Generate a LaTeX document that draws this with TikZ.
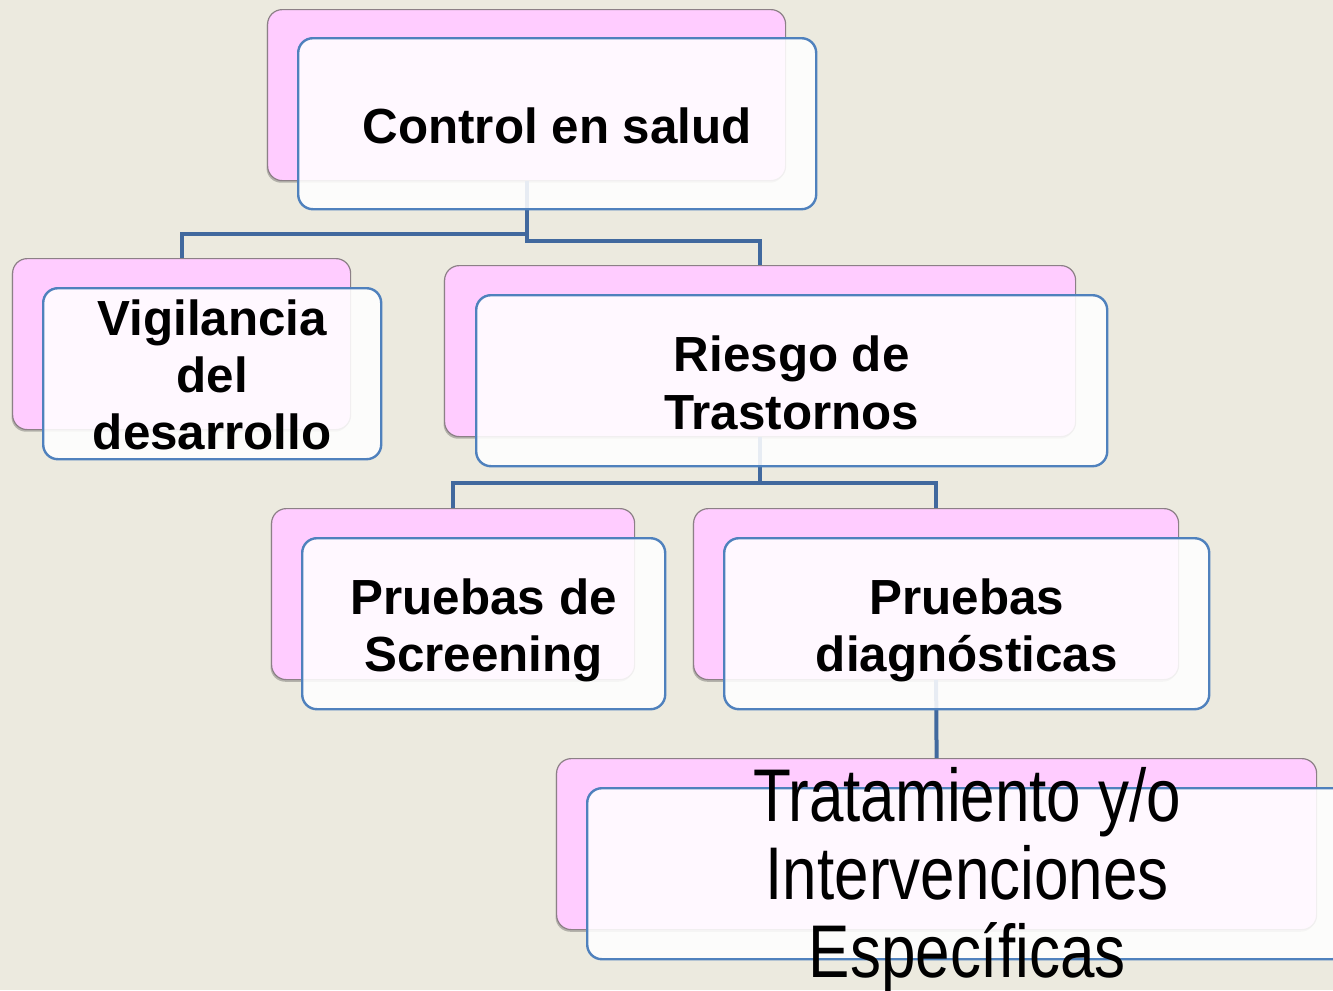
\documentclass[tikz,border=0pt]{standalone}
\usepackage{fontspec}
\setmainfont{Liberation Sans}
\newfontfamily\narrowfont[FakeStretch=0.83]{Liberation Sans}
\usetikzlibrary{shadows}
\definecolor{bg}{RGB}{236,234,223}
\definecolor{pinkfill}{RGB}{255,204,255}
\definecolor{pinkline}{RGB}{140,128,134}
\definecolor{blueline}{RGB}{79,129,189}
\definecolor{connline}{RGB}{65,105,158}
\tikzset{
  pinkbox/.style={draw=pinkline, line width=0.9pt, fill=pinkfill, rounded corners=11pt,
    minimum height=128.25pt, anchor=north west, inner sep=0pt,
    drop shadow={shadow xshift=-0.8pt, shadow yshift=-1.6pt, opacity=0.35, fill=black!70}},
  whitebox/.style={draw=blueline, line width=1.8pt, fill=white, fill opacity=0.88, draw opacity=1,
    rounded corners=11pt, minimum height=128.25pt, anchor=north west, inner sep=0pt},
  boldlabel/.style={font=\fontsize{37}{43}\selectfont\bfseries, align=center, text=black, inner sep=0pt},
  narrowlabel/.style={font=\fontsize{56}{58.5}\selectfont\narrowfont, align=center, text=black, inner sep=0pt},
  conn/.style={draw=connline, line width=3pt}
}
\begin{document}
\begin{tikzpicture}[x=0.75pt,y=-0.75pt]
\fill[bg] (0,0) rectangle (1333,990);
\useasboundingbox (0,0) rectangle (1333,990);
% pink back boxes
\node[pinkbox, minimum width=388.5pt] (p1) at (267,9) {};
\node[pinkbox, minimum width=253.5pt] (p2) at (12,258) {};
\node[pinkbox, minimum width=473.25pt] (p3) at (444,265) {};
\node[pinkbox, minimum width=272.25pt] (p4) at (271,508) {};
\node[pinkbox, minimum width=363.75pt] (p5) at (693,508) {};
\node[pinkbox, minimum width=570pt] (p6) at (556,758) {};
% connectors
\draw[conn] (p1.south) -- ++(0,53) -| (p2.north);
\draw[conn] (p1.south) -- ++(0,60) -| (p3.north);
\draw[conn] (p3.south) -- ++(0,46) -| (p4.north);
\draw[conn] (p3.south) -- ++(0,46) -| (p5.north);
\draw[conn] (p5.south) -- (p6.north);
% white front boxes
\node[whitebox, minimum width=388.5pt] (w1) at (297,37) {};
\node[whitebox, minimum width=253.5pt] (w2) at (42,287) {};
\node[whitebox, minimum width=473.25pt] (w3) at (475,294) {};
\node[whitebox, minimum width=272.25pt] (w4) at (301,537) {};
\node[whitebox, minimum width=363.75pt] (w5) at (723,537) {};
\node[whitebox, minimum width=570pt] (w6) at (586,787) {};
% labels
\node[boldlabel] (t1) at ([yshift=-1.5pt]w1.center) {Control en salud};
\node[boldlabel] (t2) at ([yshift=-0.75pt]w2.center) {Vigilancia\\del\\desarrollo};
\node[boldlabel] (t3) at ([yshift=-1.5pt]w3.center) {Riesgo de\\Trastornos};
\node[boldlabel] (t4) at ([yshift=-5pt]w4.center) {Pruebas de\\Screening};
\node[boldlabel] (t5) at ([yshift=-5pt]w5.center) {Pruebas\\diagnósticas};
\node[narrowlabel] (t6) at ([yshift=-5pt]w6.center) {Tratamiento y/o\\Intervenciones\\Específicas};
\end{tikzpicture}
\end{document}
